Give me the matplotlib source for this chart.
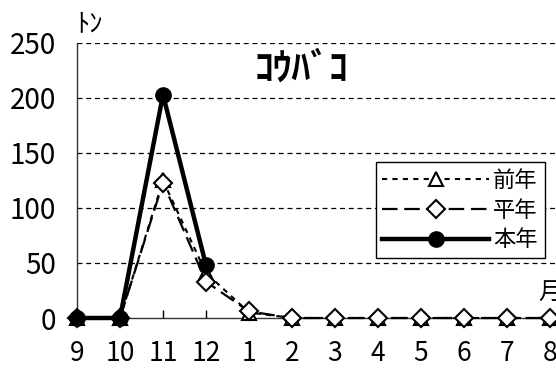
import matplotlib
matplotlib.use("Agg")
import matplotlib.pyplot as plt

plt.rcParams['font.family'] = ['Noto Sans CJK JP', 'DejaVu Sans']

months = ["9", "10", "11", "12", "1", "2", "3", "4", "5", "6", "7", "8"]
prev_year = [0, 0, 125, 41, 5, 0, 0, 0, 0, 0, 0, 0]      # 前年
normal_year = [0, 0, 123, 33, 6, 0, 0, 0, 0, 0, 0, 0]    # 平年
this_year = [0, 0, 203, 48]                             # 本年
yticks = [0, 50, 100, 150, 200, 250]

W, H = 556, 371
fig = plt.figure(figsize=(W / 100, H / 100), dpi=100)
ax = fig.add_axes([77 / W, (H - 318) / H, (W - 77) / W, (318 - 43) / H])

x = list(range(len(months)))
ax.plot(x, prev_year, color='black', lw=1.5, ls=(0, (2.5, 2.5)),
        marker='^', ms=10, mfc='white', mec='black', mew=1.5,
        clip_on=False, zorder=3, label='前年')
ax.plot(x, normal_year, color='black', lw=1.6, ls=(0, (7, 3)),
        marker='D', ms=9, mfc='white', mec='black', mew=1.5,
        clip_on=False, zorder=4, label='平年')
ax.plot(x[:len(this_year)], this_year, color='black', lw=3.2, ls='-',
        marker='o', ms=11, mfc='black', mec='black',
        clip_on=False, zorder=5, label='本年')

ax.set_xlim(0, (W - 77) / 43)
ax.set_ylim(0, 250)
ax.set_yticks(yticks)
ax.set_yticklabels([str(v) for v in yticks], fontsize=20)
ax.set_xticks(x)
ax.set_xticklabels(months, fontsize=19)
ax.tick_params(axis='x', direction='in', length=6, width=1, pad=16)
ax.tick_params(axis='y', length=0, pad=15)

for v in yticks[1:]:
    ax.axhline(v, color='black', lw=0.9, ls=(0, (4, 3)), zorder=1)

for s in ['top', 'right']:
    ax.spines[s].set_visible(False)
ax.spines['left'].set_color('#333333')
ax.spines['bottom'].set_color('#333333')
ax.spines['left'].set_linewidth(1)
ax.spines['bottom'].set_linewidth(1)

fig.text(90 / W, 1 - 24 / H, 'ﾄﾝ', fontsize=19, ha='center', va='center')
fig.text(301 / W, 1 - 68 / H, 'ｺｳﾊﾞｺ', fontsize=27, fontweight='bold',
         ha='center', va='center')
fig.text(538 / W, 1 - 292 / H, '月', fontsize=17, ha='left', va='center')

leg = ax.legend(loc='upper right', bbox_to_anchor=(0.976, 0.566),
                fontsize=16, frameon=True, fancybox=False, framealpha=1,
                edgecolor='black', handlelength=4.8, handletextpad=0.2,
                labelspacing=0.3, borderpad=0.3, borderaxespad=0)
leg.get_frame().set_linewidth(1)

fig.savefig('out.png', dpi=100)
